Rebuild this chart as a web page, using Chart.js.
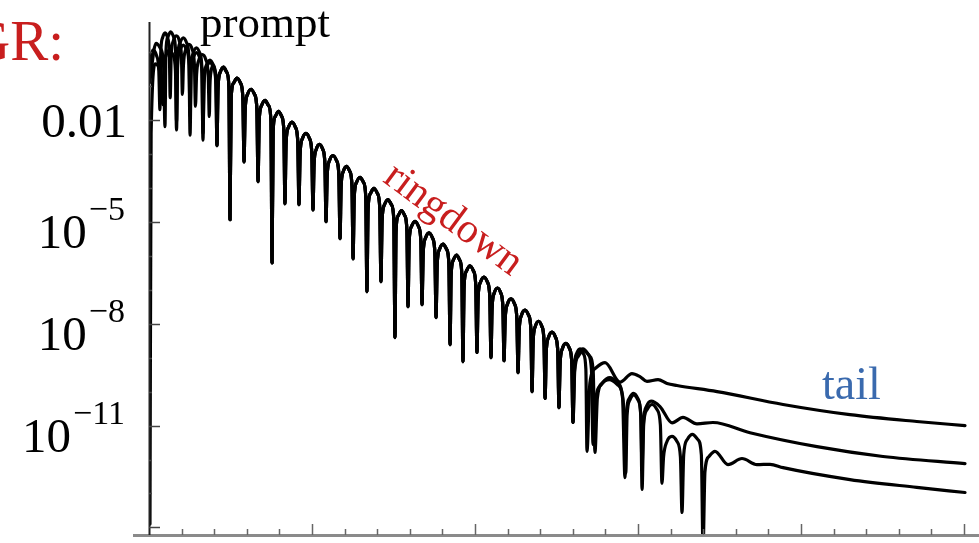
<!DOCTYPE html>
<html>
<head>
<meta charset="utf-8">
<script src="https://cdn.jsdelivr.net/npm/chart.js@4.4.1/dist/chart.umd.min.js"></script>
<style>
  html, body { margin: 0; padding: 0; background: #fff; }
  #wrap { position: relative; width: 979px; height: 543px; }
</style>
</head>
<body>
<div id="wrap"><canvas id="c" width="979" height="543"></canvas></div>
<script>
// values are log10 |psi|, time in units of M

// ringdown part, common to the three curves
const RD_ZERO_T = [41.7, 49.7, 58.3, 66.9, 75.5, 83.4, 92.0, 100.6, 108.6, 117.2, 125.2, 133.7, 142.3, 150.9,
    158.9, 167.5, 176.1, 184.7, 192.6, 201.2, 209.8, 217.8, 226.4, 235.0, 243.0, 251.5, 260.1];
const RD_SPIKE = [-2.76, -4.94, -3.24, -3.82, -6.21, -4.47, -4.50, -4.65, -5.00, -5.50, -6.09, -7.06, -6.76, -8.41,
    -7.50, -7.44, -7.82, -8.62, -9.12, -8.85, -9.00, -9.09, -9.44, -10.0, -10.2, -10.47, -10.91];
const RD_ARCH = [-0.45, -0.77, -1.10, -1.43, -1.75, -2.07, -2.40, -2.72, -3.05, -3.37, -3.69, -4.02, -4.35,
    -4.67, -4.99, -5.33, -5.66, -5.98, -6.30, -6.63, -6.95, -7.27, -7.60, -7.93, -8.25, -8.58];

// curve A (upper tail)
const A_HEAD_T = [0.4, 4.3];
const A_HEAD_V = [-0.9, 0.25];
const A_ZERO_T = [9.8, 16.9, 25.2, 33.1, ...RD_ZERO_T, 268.7];
const A_SPIKE = [-2.2, -2.06, -1.91, -2.4, ...RD_SPIKE, -11.76];
const A_ARCH = [0.59, 0.41, 0.12, -0.24, ...RD_ARCH, -8.74];
const A_TAIL_T = [279.8, 289.0, 296.3, 301.2, 305.5, 312.3, 317.8, 323.9, 348.5, 389.0, 430.0, 471.0, 500.6];
const A_TAIL_V = [-9.15, -9.72, -9.47, -9.56, -9.70, -9.65, -9.76, -9.82, -10.0, -10.38, -10.68, -10.88, -11.0];

// curve B (middle tail)
const B_HEAD_T = [0.4, 2.4];
const B_HEAD_V = [-0.6, 0.05];
const B_ZERO_T = [6.7, 13.0, 20.5, 28.5, 37.0, ...RD_ZERO_T, 273.6, 292.0, 302.5];
const B_SPIKE = [-1.7, -1.35, -1.25, -1.6, -1.9, ...RD_SPIKE, -11.79, -12.53, -12.2];
const B_ARCH = [0.56, 0.47, 0.22, -0.08, -0.4, ...RD_ARCH, -8.80, -9.59, -10.05];
const B_TAIL_T = [308.0, 313.5, 320.9, 327.6, 336.2, 346.0, 368.7, 409.8, 450.3, 500.6];
const B_TAIL_V = [-10.28, -10.44, -10.92, -10.76, -10.95, -10.91, -11.21, -11.62, -11.91, -12.12];

// curve C (lower tail)
const C_HEAD_T = [0.6, 1.3, 4.0];
const C_HEAD_V = [-13.9, -2.4, -0.35];
const C_ZERO_T = [8.4, 16.9, 25.2, 33.1, ...RD_ZERO_T, 272.4, 292.5, 302.5, 314.7, 327.0, 339.9];
const C_SPIKE = [-1.55, -2.3, -2.45, -2.6, ...RD_SPIKE, -11.56, -12.4, -12.88, -12.7, -13.56, -14.6];
const C_ARCH = [0.05, 0.2, -0.02, -0.32, ...RD_ARCH, -8.74, -9.65, -10.1, -10.38, -11.32, -11.26];
const C_TAIL_T = [347.2, 355.2, 363.8, 373.0, 381.0, 389.0, 430.0, 471.0, 500.6];
const C_TAIL_V = [-11.76, -12.15, -11.97, -12.15, -12.14, -12.24, -12.59, -12.82, -12.97];

// axis ticks
const X_TICKS = [20, 40, 60, 80, 100, 120, 140, 160, 180, 200, 220, 240, 260, 280, 300, 320, 340, 360, 380, 400,
    420, 440, 460, 480, 500];
const Y_LABEL_EXP = [-2, -5, -8, -11, -14];
const Y_LABELS = ['0.01', '10|−5', '10|−8', '10|−11', ''];

// shape of a lobe flank: [fraction of lobe width, decades below the arch top]
const SHOULDER = [[0.08, -0.6], [0.25, -0.15]];

function buildCurve(headT, headV, zeroT, spikeV, archV, tailT, tailV) {
    const pts = [];
    const add = (t, v) => pts.push({ x: t, y: Math.pow(10, v) });
    headT.forEach((t, i) => add(t, headV[i]));
    const hT = headT[headT.length - 1], hV = headV[headV.length - 1];
    let w = 2 * (zeroT[0] - hT);
    for (let k = SHOULDER.length - 1; k >= 0; k--) add(zeroT[0] - SHOULDER[k][0] * w, hV + SHOULDER[k][1]);
    for (let i = 0; i < zeroT.length; i++) {
        add(zeroT[i], spikeV[i]);
        if (i < zeroT.length - 1) {
            const z0 = zeroT[i], z1 = zeroT[i + 1], a = archV[i];
            w = z1 - z0;
            SHOULDER.forEach(s => add(z0 + s[0] * w, a + s[1]));
            add(z0 + 0.5 * w, a);
            for (let k = SHOULDER.length - 1; k >= 0; k--) add(z1 - SHOULDER[k][0] * w, a + SHOULDER[k][1]);
        }
    }
    const zl = zeroT[zeroT.length - 1];
    w = 2 * (tailT[0] - zl);
    SHOULDER.forEach(s => add(zl + s[0] * w, tailV[0] + s[1]));
    tailT.forEach((t, i) => add(t, tailV[i]));
    return pts;
}

const curveStyle = {
    borderColor: '#000',
    borderWidth: 3.2,
    pointRadius: 0,
    fill: false,
    cubicInterpolationMode: 'monotone',
    borderJoinStyle: 'round',
    borderCapStyle: 'round'
};

const SERIF = '"Liberation Serif", "DejaVu Serif", serif';

const decorations = {
    id: 'decorations',
    afterDraw(chart) {
        const ctx = chart.ctx;
        const xs = chart.scales.x, ys = chart.scales.y;
        const area = chart.chartArea;
        ctx.save();
        // axes
        ctx.strokeStyle = '#8a8a8a';
        ctx.lineWidth = 3;
        ctx.beginPath();
        ctx.moveTo(133, area.bottom + 0.5);
        ctx.lineTo(979, area.bottom + 0.5);
        ctx.stroke();
        ctx.strokeStyle = '#222';
        ctx.lineWidth = 2;
        ctx.beginPath();
        ctx.moveTo(area.left + 0.5, area.top);
        ctx.lineTo(area.left + 0.5, area.bottom);
        ctx.stroke();
        // x ticks
        ctx.strokeStyle = '#666';
        ctx.lineWidth = 1.5;
        X_TICKS.forEach(t => {
            const px = Math.round(xs.getPixelForValue(t)) + 0.5;
            const len = t % 100 === 0 ? 11 : 6;
            ctx.beginPath();
            ctx.moveTo(px, area.bottom);
            ctx.lineTo(px, area.bottom - len);
            ctx.stroke();
        });
        // y ticks
        ctx.strokeStyle = '#444';
        for (let e = -14; e <= 0; e++) {
            const py = Math.round(ys.getPixelForValue(Math.pow(10, e))) + 0.5;
            const len = Y_LABEL_EXP.includes(e) ? 11 : 3;
            ctx.beginPath();
            ctx.moveTo(area.left, py);
            ctx.lineTo(area.left + len, py);
            ctx.stroke();
        }
        // y labels
        ctx.fillStyle = '#000';
        ctx.textAlign = 'right';
        ctx.textBaseline = 'alphabetic';
        Y_LABEL_EXP.forEach((e, i) => {
            const lab = Y_LABELS[i];
            if (!lab) return;
            const py = ys.getPixelForValue(Math.pow(10, e));
            const right = 127;
            if (lab.indexOf('|') < 0) {
                ctx.font = '49px ' + SERIF;
                ctx.fillText(lab, right, py + 17);
            } else {
                const [base, ex] = lab.split('|');
                ctx.font = '34px ' + SERIF;
                const ew = ctx.measureText(ex).width;
                ctx.fillText(ex, right - 2, py - 2);
                ctx.font = '49px ' + SERIF;
                ctx.fillText(base, right - 2 - ew - 2, py + 26);
            }
        });
        // annotations
        ctx.textAlign = 'left';
        ctx.font = '45px ' + SERIF;
        ctx.fillStyle = '#000';
        ctx.fillText('prompt', 200, 37);
        ctx.fillStyle = '#3a6aae';
        ctx.font = '46px ' + SERIF;
        ctx.fillText('tail', 822, 399);
        ctx.fillStyle = '#c81e1e';
        ctx.font = '57px ' + SERIF;
        ctx.textAlign = 'right';
        ctx.fillText('GR:', 64, 60);
        ctx.save();
        ctx.translate(453, 220);
        ctx.rotate(36.5 * Math.PI / 180);
        ctx.textAlign = 'center';
        ctx.textBaseline = 'middle';
        ctx.font = '42px ' + SERIF;
        ctx.fillText('ringdown', 0, 0);
        ctx.restore();
        ctx.restore();
    }
};

new Chart(document.getElementById('c'), {
    type: 'line',
    data: {
        datasets: [
            { label: 'A', data: buildCurve(A_HEAD_T, A_HEAD_V, A_ZERO_T, A_SPIKE, A_ARCH, A_TAIL_T, A_TAIL_V), ...curveStyle },
            { label: 'B', data: buildCurve(B_HEAD_T, B_HEAD_V, B_ZERO_T, B_SPIKE, B_ARCH, B_TAIL_T, B_TAIL_V), ...curveStyle },
            { label: 'C', data: buildCurve(C_HEAD_T, C_HEAD_V, C_ZERO_T, C_SPIKE, C_ARCH, C_TAIL_T, C_TAIL_V), ...curveStyle }
        ]
    },
    options: {
        responsive: false,
        animation: false,
        devicePixelRatio: 1,
        layout: { padding: { left: 149, right: 0, top: 22, bottom: 8 } },
        plugins: { legend: { display: false }, tooltip: { enabled: false } },
        scales: {
            x: { type: 'linear', min: 0, max: 509.2, display: false },
            y: { type: 'logarithmic', min: Math.pow(10, -14.2), max: Math.pow(10, 0.88), display: false }
        }
    },
    plugins: [decorations]
});
</script>
</body>
</html>
